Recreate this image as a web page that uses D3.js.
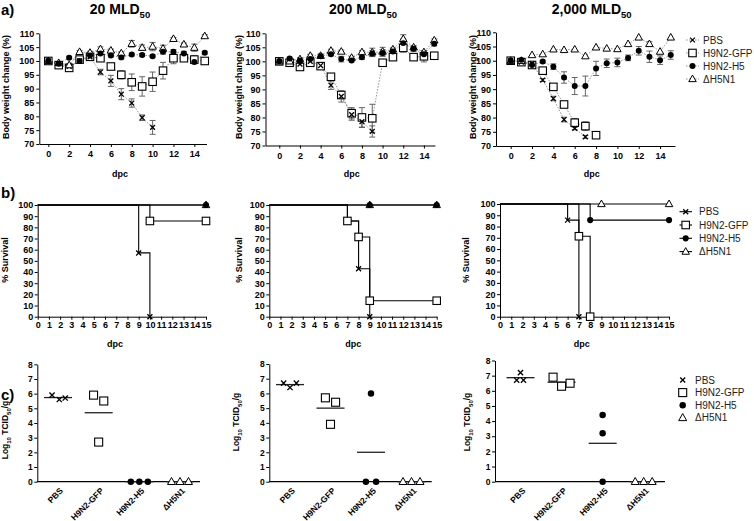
<!DOCTYPE html>
<html><head><meta charset="utf-8">
<script src="https://cdn.jsdelivr.net/npm/d3@7"></script>
<style>
body{margin:0;background:#fff}
svg{display:block}
text{font-family:"Liberation Sans",Arial,Helvetica,sans-serif}
</style>
</head><body>
<svg id="c" width="754" height="521"></svg>
<script>
// ================= DATA =================
const groups = ["PBS", "H9N2-GFP", "H9N2-H5", "ΔH5N1"];
const doseTitles = ["20", "200", "2,000"];
const weightTicks = [70, 75, 80, 85, 90, 95, 100, 105, 110];
const dayTicks = [0, 2, 4, 6, 8, 10, 12, 14];
const survTicks = [0, 10, 20, 30, 40, 50, 60, 70, 80, 90, 100];
const survDayTicks = [0, 1, 2, 3, 4, 5, 6, 7, 8, 9, 10, 11, 12, 13, 14, 15];
const titerTicks = [0, 1, 2, 3, 4, 5, 6, 7, 8];

// --- a) body weight (%), index = day post challenge ---
const w20_PBS     = [100, 99, 98, 100, 101.5, 96, 92.8, 88, 84.8, 79.5, 76];
const w20_PBS_err = [0, 0.5, 0.8, 0.5, 0.5, 1, 2, 2, 1.5, 1, 2.5];
const w20_GFP     = [100, 98.5, 97.5, 100.5, 101.5, 101, 98, 95, 92.3, 90.8, 92.5, 96.5, 101, 101, 100.5, 100];
const w20_GFP_err = [0, 0.5, 1, 0.5, 0.5, 0.5, 1, 1.5, 3, 3.5, 3.5, 3, 2, 1, 1.5, 0.5];
const w20_H5      = [100, 99, 101.2, 100, 102, 102.7, 102, 101.3, 102.3, 102.2, 101.7, 103.3, 103.3, 102.7, 99.6, 103];
const w20_H5_err  = [0, 0.5, 0.5, 0.5, 0.5, 0.5, 0.5, 0.5, 0.5, 0.5, 0.5, 0.8, 0.8, 0.8, 0.5, 0.5];
const w20_D       = [100, 99.3, 98.5, 103.3, 103, 104.3, 103.8, 102.8, 106.2, 104.8, 105.2, 104.5, 108, 106, 104.8, 109];
const w20_D_err   = [0, 0.5, 0.5, 0.5, 0.5, 0.8, 0.5, 0.5, 1.2, 1, 1.5, 1.2, 0.5, 0.5, 1.3, 0.5];

const w200_PBS     = [100, 100, 99, 100, 98.5, 91.5, 87.5, 81, 78.5, 75];
const w200_PBS_err = [0, 0.5, 0.5, 0.5, 0.5, 1.5, 2, 2, 2, 2];
const w200_GFP     = [100, 99.5, 98, 99.5, 98.3, 94.5, 88, 81.5, 80, 79.7, 99.5, 101.5, 104.8, 101.5, 101.8, 102];
const w200_GFP_err = [0, 0.5, 0.5, 0.5, 0.5, 0.5, 1, 2, 3.5, 5, 1, 0.5, 1.5, 0.5, 2, 0.5];
const w200_H5      = [100, 101, 100.3, 100.8, 101.8, 102.5, 100.8, 100.3, 101.5, 102.8, 103, 103.5, 106.5, 104.5, 102.5, 106.3];
const w200_H5_err  = [0, 0.5, 0.5, 0.5, 0.8, 0.5, 1, 0.5, 0.8, 1, 1.2, 1, 1.5, 1, 1, 0.8];
const w200_D       = [100, 100, 100.8, 102, 102, 103.8, 103.5, 101.3, 103.3, 103.2, 103.5, 104.3, 108, 105, 103.3, 107.5];
const w200_D_err   = [0, 0.5, 0.5, 0.5, 0.5, 0.5, 0.5, 0.5, 0.5, 1.5, 1.5, 0.5, 1.5, 0.5, 0.5, 0.5];

const w2000_PBS     = [100, 99.5, 99, 93.2, 86.7, 79.3, 76.2, 73.2];
const w2000_PBS_err = [0, 0.5, 0.5, 0.5, 0.8, 0.8, 0.5, 0.5];
const w2000_GFP     = [100, 99.5, 98.5, 96.5, 90.8, 84.6, 78.2, 77, 73.8];
const w2000_GFP_err = [0, 0.5, 0.5, 0.5, 1, 1, 1.5, 1.5, 0.5];
const w2000_H5      = [100, 100.3, 98.5, 99.7, 97.9, 94.1, 91.1, 91.1, 97.3, 99.1, 99.4, 101, 103.5, 101.4, 100.2, 102];
const w2000_H5_err  = [0, 0.5, 0.5, 0.5, 1, 2, 3, 3.5, 2.5, 1.5, 1.5, 1, 1.5, 2, 1.5, 1.5];
const w2000_D       = [100, 100, 102, 102.3, 104, 103.8, 104, 101.6, 104.7, 104.3, 104.1, 105.9, 108.2, 105.9, 103.2, 108.2];
const w2000_D_err   = [0, 0, 0, 0, 0, 0, 0, 0, 0, 0, 0, 0, 0, 0.8, 0, 0];

// --- b) survival (%): event days and survival after each event ---
const s20_PBS_t = [0, 9, 10],       s20_PBS_s = [100, 57.1, 0];
const s20_GFP_t = [0, 10, 15],      s20_GFP_s = [100, 85.7, 85.7];
const s20_H5_t  = [0, 15],          s20_H5_s  = [100, 100];
const s20_D_t   = [0, 15],          s20_D_s   = [100, 100];

const s200_PBS_t = [0, 7, 8, 9],     s200_PBS_s = [100, 85.7, 42.9, 0];
const s200_GFP_t = [0, 7, 8, 9, 15], s200_GFP_s = [100, 85.7, 71.4, 14.3, 14.3];
const s200_H5_t  = [0, 9, 15],       s200_H5_s  = [100, 100, 100];
const s200_D_t   = [0, 9, 15],       s200_D_s   = [100, 100, 100];

const s2000_PBS_t = [0, 6, 7],       s2000_PBS_s = [100, 85.7, 0];
const s2000_GFP_t = [0, 7, 8],       s2000_GFP_s = [100, 71.4, 0];
const s2000_H5_t  = [0, 8, 15],      s2000_H5_s  = [100, 85.7, 85.7];
const s2000_D_t   = [0, 9, 15],      s2000_D_s   = [100, 100, 100];

// --- c) lung titres (log10 TCID50/g); slot = side-by-side placement index ---
const t20_PBS = [5.9, 5.6, 5.7],   t20_PBS_slot = [-0.7, 0.15, 0.85];
const t20_GFP = [5.9, 2.7, 5.5],   t20_GFP_slot = [-0.6, 0, 0.6];
const t20_H5  = [0, 0, 0],         t20_H5_slot  = [-1, 0, 1];
const t20_D   = [0, 0, 0],         t20_D_slot   = [-1, 0, 1];

const t200_PBS = [6.7, 6.4, 6.7],  t200_PBS_slot = [-0.75, 0, 0.75];
const t200_GFP = [5.7, 3.9, 5.4],  t200_GFP_slot = [-0.6, 0, 0.6];
const t200_H5  = [0, 6.0, 0],      t200_H5_slot  = [-0.6, 0, 0.6];
const t200_D   = [0, 0, 0],        t200_D_slot   = [-1, 0, 1];

const t2000_PBS = [6.7, 7.2, 6.7], t2000_PBS_slot = [-0.45, 0, 0.35];
const t2000_GFP = [6.9, 6.3, 6.5], t2000_GFP_slot = [-1, 0, 1];
const t2000_H5  = [4.4, 3.2, 0],   t2000_H5_slot  = [0, 0, 0];
const t2000_D   = [0, 0, 0],       t2000_D_slot   = [-1, 0, 1];

// ================= DRAWING =================
const svg = d3.select("#c");
const markerType = {"PBS": "x", "H9N2-GFP": "square", "H9N2-H5": "circle", "ΔH5N1": "triangle"};

function drawMarker(g, type, x, y, s) {
  if (type === "x") {
    const h = s / 2;
    g.append("path").attr("d", `M${x-h},${y-h}L${x+h},${y+h}M${x-h},${y+h}L${x+h},${y-h}`)
      .attr("stroke", "#000").attr("stroke-width", 1.3).attr("fill", "none");
  } else if (type === "square") {
    g.append("rect").attr("x", x - s/2).attr("y", y - s/2).attr("width", s).attr("height", s)
      .attr("fill", "#fff").attr("stroke", "#000").attr("stroke-width", 1.1);
  } else if (type === "circle") {
    g.append("circle").attr("cx", x).attr("cy", y).attr("r", s/2 * 0.95).attr("fill", "#000");
  } else {
    const h = s * 0.88;
    g.append("path").attr("d", `M${x},${y-h*0.6}L${x+s/2},${y+h*0.4}L${x-s/2},${y+h*0.4}Z`)
      .attr("fill", "#fff").attr("stroke", "#000").attr("stroke-width", 1);
  }
}

function styleAxis(g, size) {
  g.selectAll("path.domain").attr("stroke", "#000").attr("stroke-width", 1);
  g.selectAll(".tick line").attr("stroke", "#000").attr("stroke-width", 1);
  g.selectAll(".tick text").attr("font-size", size).attr("font-weight", "bold").attr("fill", "#000")
    .attr("font-family", '"Liberation Sans",Arial,sans-serif');
}

function rotatedTitle(x, y, parts, size) {
  const t = svg.append("text").attr("transform", `translate(${x + size*0.36},${y}) rotate(-90)`)
    .attr("text-anchor", "middle").attr("font-size", size).attr("font-weight", "bold").attr("fill", "#000");
  parts.forEach(p => {
    const ts = t.append("tspan").text(p.t);
    if (p.sub) ts.attr("font-size", size * 0.7).attr("dy", size * 0.3);
    else if (p.after) ts.attr("dy", -size * 0.3);
  });
}

// panel labels
[["a)", 15], ["b)", 198], ["c)", 400]].forEach(([s, y]) =>
  svg.append("text").attr("x", 1).attr("y", y).attr("font-size", 15).attr("font-weight", "bold").text(s));

// ---------- row a ----------
const weightSets = [
  [[w20_PBS, w20_PBS_err], [w20_GFP, w20_GFP_err], [w20_H5, w20_H5_err], [w20_D, w20_D_err]],
  [[w200_PBS, w200_PBS_err], [w200_GFP, w200_GFP_err], [w200_H5, w200_H5_err], [w200_D, w200_D_err]],
  [[w2000_PBS, w2000_PBS_err], [w2000_GFP, w2000_GFP_err], [w2000_H5, w2000_H5_err], [w2000_D, w2000_D_err]]
];
const topLayout = [
  {axisX: 39.3, x0: 48.3, ppd: 10.43, xEnd: 206.5, yTop: 33.3, yBot: 144, titleX: 120, ytX: 6, dpcX: 120},
  {axisX: 265.5, x0: 279.3, ppd: 10.33, xEnd: 435, yTop: 33.3, yBot: 145.5, titleX: 363, ytX: 239, dpcX: 351.7},
  {axisX: 496, x0: 510.7, ppd: 10.67, xEnd: 675, yTop: 32.3, yBot: 146, titleX: 591.7, ytX: 473, dpcX: 591.7}
];
topLayout.forEach((L, pi) => {
  const x = d3.scaleLinear().domain([(L.axisX - L.x0) / L.ppd, (L.xEnd - L.x0) / L.ppd]).range([L.axisX, L.xEnd]);
  const y = d3.scaleLinear().domain([70, 110]).range([L.yBot, L.yTop]);
  const gy = svg.append("g").attr("transform", `translate(${L.axisX},0)`)
    .call(d3.axisLeft(y).tickValues(weightTicks).tickSize(3).tickSizeOuter(0).tickPadding(2));
  styleAxis(gy, 9);
  const gx = svg.append("g").attr("transform", `translate(0,${L.yBot})`)
    .call(d3.axisBottom(x).tickValues(dayTicks).tickSize(3).tickSizeOuter(0).tickPadding(4));
  styleAxis(gx, 9);
  // title
  const tt = svg.append("text").attr("x", L.titleX).attr("y", 14).attr("text-anchor", "middle")
    .attr("font-size", 14).attr("font-weight", "bold");
  tt.append("tspan").text(doseTitles[pi] + " MLD");
  tt.append("tspan").text("50").attr("font-size", 9.5).attr("dy", 4);
  svg.append("text").attr("x", L.dpcX).attr("y", 177).attr("text-anchor", "middle")
    .attr("font-size", 9).attr("font-weight", "bold").text("dpc");
  rotatedTitle(L.ytX, 87, [{t: "Body weight change (%)"}], 9);

  const sets = weightSets[pi];
  const line = d3.line().x((d, i) => x(i)).y(d => y(d));
  sets.forEach(([vals]) => {
    svg.append("path").attr("d", line(vals)).attr("fill", "none")
      .attr("stroke", "#8a8a8a").attr("stroke-width", 0.9).attr("stroke-dasharray", "1.6,1.4");
  });
  sets.forEach(([vals, err]) => {
    vals.forEach((v, i) => {
      const e = err[i];
      if (!e) return;
      const cx = x(i), y1 = y(v + e), y2 = y(v - e);
      svg.append("path").attr("d", `M${cx},${y1}V${y2}M${cx-3},${y1}H${cx+3}M${cx-3},${y2}H${cx+3}`)
        .attr("stroke", "#555").attr("stroke-width", 0.9).attr("fill", "none");
    });
  });
  [1, 0, 3, 2].forEach(gi => {
    const vals = sets[gi][0];
    const type = markerType[groups[gi]];
    const size = type === "square" ? 7.5 : type === "circle" ? 6.3 : type === "triangle" ? 7.5 : 4.8;
    vals.forEach((v, i) => drawMarker(svg, type, x(i), y(v), size));
  });
});
// legend a
groups.forEach((gname, i) => {
  const yy = 40 + i * 13;
  svg.append("path").attr("d", `M686,${yy}H699`).attr("stroke", "#8a8a8a").attr("stroke-width", 0.9)
    .attr("stroke-dasharray", "1.6,1.4");
  const type = markerType[gname];
  drawMarker(svg, type, 692.5, yy, type === "x" ? 4.8 : type === "circle" ? 6.3 : 7.5);
  svg.append("text").attr("x", 703).attr("y", yy + 3.6).attr("font-size", 10).attr("fill", "#222").text(gname);
});

// ---------- row b ----------
const survSets = [
  [[s20_PBS_t, s20_PBS_s], [s20_GFP_t, s20_GFP_s], [s20_H5_t, s20_H5_s], [s20_D_t, s20_D_s]],
  [[s200_PBS_t, s200_PBS_s], [s200_GFP_t, s200_GFP_s], [s200_H5_t, s200_H5_s], [s200_D_t, s200_D_s]],
  [[s2000_PBS_t, s2000_PBS_s], [s2000_GFP_t, s2000_GFP_s], [s2000_H5_t, s2000_H5_s], [s2000_D_t, s2000_D_s]]
];
const midLayout = [
  {axisX: 37.7, ppd: 11.22, yTop: 205, yBot: 316.7, ytX: 5, dpcX: 115},
  {axisX: 269.3, ppd: 11.16, yTop: 205, yBot: 316.7, ytX: 239, dpcX: 353.3},
  {axisX: 500, ppd: 11.27, yTop: 204, yBot: 316.7, ytX: 466, dpcX: 581.7}
];
midLayout.forEach((L, pi) => {
  const x = d3.scaleLinear().domain([0, 15]).range([L.axisX, L.axisX + 15 * L.ppd]);
  const y = d3.scaleLinear().domain([0, 100]).range([L.yBot, L.yTop]);
  const gy = svg.append("g").attr("transform", `translate(${L.axisX},0)`)
    .call(d3.axisLeft(y).tickValues(survTicks).tickSize(3).tickSizeOuter(0).tickPadding(1.5));
  styleAxis(gy, 9);
  const gx = svg.append("g").attr("transform", `translate(0,${L.yBot})`)
    .call(d3.axisBottom(x).tickValues(survDayTicks).tickSize(3).tickSizeOuter(0).tickPadding(2));
  styleAxis(gx, 9);
  svg.append("text").attr("x", L.dpcX).attr("y", 347).attr("text-anchor", "middle")
    .attr("font-size", 9).attr("font-weight", "bold").text("dpc");
  rotatedTitle(L.ytX, 260, [{t: "% Survival"}], 9);

  const sets = survSets[pi];
  sets.forEach(([t, s]) => {
    let d = `M${x(t[0])},${y(s[0])}`;
    for (let i = 1; i < t.length; i++) d += `H${x(t[i])}V${y(s[i])}`;
    svg.append("path").attr("d", d).attr("fill", "none").attr("stroke", "#000").attr("stroke-width", 1.1);
  });
  [0, 1, 3, 2].forEach(gi => {
    const [t, s] = sets[gi];
    const type = markerType[groups[gi]];
    const size = type === "square" ? 7.5 : type === "circle" ? 6.5 : type === "triangle" ? 7.5 : 5;
    for (let i = 1; i < t.length; i++) drawMarker(svg, type, x(t[i]), y(s[i]), size);
  });
});
// legend b
groups.forEach((gname, i) => {
  const yy = 211.7 + i * 13.3;
  svg.append("path").attr("d", `M679.5,${yy}H692`).attr("stroke", "#000").attr("stroke-width", 1.1);
  const type = markerType[gname];
  drawMarker(svg, type, 685.7, yy, type === "x" ? 5 : type === "circle" ? 6.5 : 7.5);
  svg.append("text").attr("x", 699).attr("y", yy + 3.6).attr("font-size", 10).attr("fill", "#222").text(gname);
});

// ---------- row c ----------
const titerSets = [
  [[t20_PBS, t20_PBS_slot], [t20_GFP, t20_GFP_slot], [t20_H5, t20_H5_slot], [t20_D, t20_D_slot]],
  [[t200_PBS, t200_PBS_slot], [t200_GFP, t200_GFP_slot], [t200_H5, t200_H5_slot], [t200_D, t200_D_slot]],
  [[t2000_PBS, t2000_PBS_slot], [t2000_GFP, t2000_GFP_slot], [t2000_H5, t2000_H5_slot], [t2000_D, t2000_D_slot]]
];
const botLayout = [
  {axisX: 37.3, xEnd: 200, yTop: 364.3, yBot: 481.7, c0: 58, c1: 180, ytX: 5, ytY: 430},
  {axisX: 269.3, xEnd: 431.7, yTop: 364, yBot: 481.7, c0: 290, c1: 411.5, ytX: 236, ytY: 422},
  {axisX: 495, xEnd: 665, yTop: 360.5, yBot: 481.7, c0: 520.5, c1: 643.7, ytX: 467, ytY: 422}
];
botLayout.forEach((L, pi) => {
  const xc = d3.scalePoint().domain(groups).range([L.c0, L.c1]);
  const y = d3.scaleLinear().domain([0, 8]).range([L.yBot, L.yTop]);
  const gy = svg.append("g").attr("transform", `translate(${L.axisX},0)`)
    .call(d3.axisLeft(y).tickValues(titerTicks).tickSize(3).tickSizeOuter(0).tickPadding(1.5));
  styleAxis(gy, 8.5);
  svg.append("path").attr("d", `M${L.axisX},${L.yBot}H${L.xEnd}`).attr("stroke", "#000").attr("stroke-width", 1.2);
  groups.forEach(gname => {
    svg.append("text").attr("transform", `translate(${xc(gname) + 2},${L.yBot + 6}) rotate(-45)`)
      .attr("text-anchor", "end").attr("dy", "0.6em").attr("font-size", 8.5).attr("font-weight", "bold")
      .text(gname);
  });
  rotatedTitle(L.ytX, L.ytY, [{t: "Log"}, {t: "10", sub: true}, {t: " TCID", after: true}, {t: "50", sub: true}, {t: "/g", after: true}], 8.5);

  const sets = titerSets[pi];
  sets.forEach(([vals, slot], gi) => {
    const cx = xc(groups[gi]);
    const m = d3.mean(vals);
    svg.append("path").attr("d", `M${cx - 14},${y(m)}H${cx + 14}`).attr("stroke", "#222").attr("stroke-width", 1.3);
    const type = markerType[groups[gi]];
    const size = type === "square" ? 8 : type === "circle" ? 6.8 : type === "triangle" ? 8 : 5.2;
    vals.forEach((v, i) => drawMarker(svg, type, cx + slot[i] * 8.5, y(v), size));
  });
});
// legend c
groups.forEach((gname, i) => {
  const yy = 380 + i * 12.6;
  const type = markerType[gname];
  drawMarker(svg, type, 682.7, yy, type === "x" ? 5 : type === "circle" ? 6.8 : 8);
  svg.append("text").attr("x", 695).attr("y", yy + 3.6).attr("font-size", 10).attr("fill", "#222").text(gname);
});
</script>
</body></html>
